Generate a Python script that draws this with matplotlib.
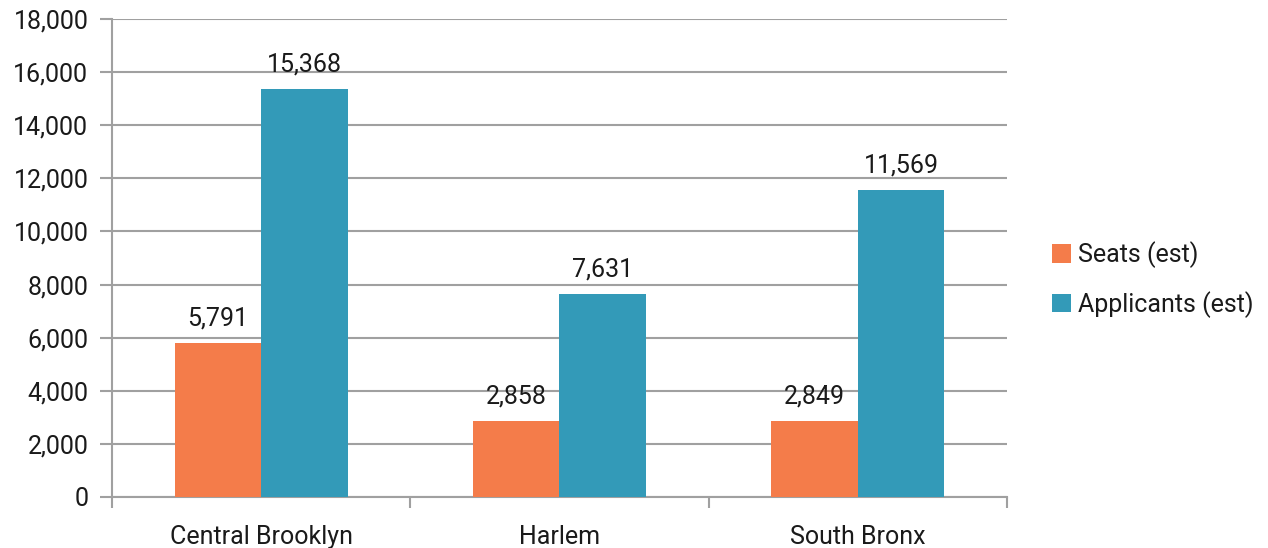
import numpy as np
import matplotlib.pyplot as plt
from matplotlib.ticker import FuncFormatter, FixedLocator

plt.rcParams['font.family'] = ['Roboto', 'DejaVu Sans']
plt.rcParams['text.color'] = '#1a1a1a'
plt.rcParams['xtick.labelcolor'] = '#1a1a1a'
plt.rcParams['ytick.labelcolor'] = '#1a1a1a'

regions = ["Central Brooklyn", "Harlem", "South Bronx"]
seats = [5791, 2858, 2849]
applicants = [15368, 7631, 11569]
series_names = ["Seats (est)", "Applicants (est)"]

orange = "#F47C4A"
blue = "#339AB8"
grid_c = "#A0A0A0"
fs = 18

fig = plt.figure(figsize=(12.68, 5.48), dpi=100)
ax = fig.add_axes([0.0883, 0.0931, 0.7058, 0.8722])

x = np.arange(len(regions))
w = 0.29
b1 = ax.bar(x - w / 2, seats, w, color=orange, label=series_names[0], zorder=3)
b2 = ax.bar(x + w / 2, applicants, w, color=blue, label=series_names[1], zorder=3)

for bars in (b1, b2):
    for r in bars:
        ax.text(r.get_x() + r.get_width() / 2, r.get_height() + 480,
                f"{int(r.get_height()):,}", ha='center', va='bottom', fontsize=fs)

ax.set_xlim(-0.5, len(regions) - 0.5)
ax.set_ylim(0, 18000)
ax.set_yticks(np.arange(0, 18001, 2000))
ax.yaxis.set_major_formatter(FuncFormatter(lambda v, p: f"{int(v):,}"))
ax.set_xticks(x)
ax.set_xticklabels(regions)
ax.xaxis.set_minor_locator(FixedLocator(np.arange(-0.5, len(regions), 1.0)))
ax.tick_params(axis='x', which='major', length=0, pad=20, labelsize=fs)
ax.tick_params(axis='x', which='minor', length=8, width=1.5, color=grid_c)
ax.tick_params(axis='y', length=9, width=1.5, color=grid_c, pad=8, labelsize=fs)

ax.grid(axis='y', color=grid_c, linewidth=1.5, zorder=0)
for s in ['top', 'right']:
    ax.spines[s].set_visible(False)
for s in ['left', 'bottom']:
    ax.spines[s].set_color(grid_c)
    ax.spines[s].set_linewidth(1.5)

ax.legend(loc='center left', bbox_to_anchor=(1.025, 0.455), frameon=False,
          fontsize=fs, handlelength=0.75, handleheight=0.75, handletextpad=0.3,
          labelspacing=0.9)

fig.savefig("out.png", dpi=100)
